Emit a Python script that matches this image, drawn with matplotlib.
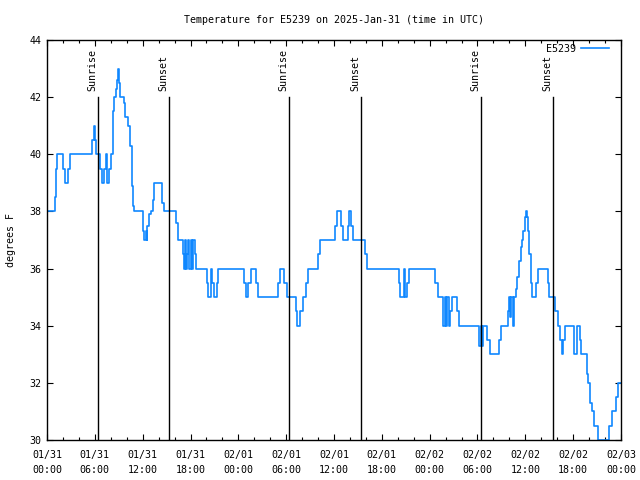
import matplotlib
matplotlib.use("Agg")
import matplotlib.pyplot as plt

# === D A T A ===

# hours since 2025-01-31 00:00 UTC, temperature (F) holds until next entry
hours = [0.0, 1.0, 1.1, 1.2, 2.05, 2.3, 2.65, 2.9, 5.7, 5.9, 6.0, 6.2,
         6.65, 6.86, 7.19, 7.37, 7.57, 7.78, 8.03, 8.3, 8.45, 8.6, 8.75, 8.9,
         9.05, 9.2, 9.6, 9.8, 10.1, 10.4, 10.6, 10.75, 10.9,
         12.0, 12.2, 12.4, 12.5, 12.6, 12.8, 13.05, 13.26, 13.4, 14.47, 14.72,
         16.19, 16.47, 17.03, 17.15, 17.3, 17.45, 17.55, 17.7, 17.85, 18.05,
         18.2, 18.35, 18.55, 18.75, 20.04, 20.24, 20.54, 20.74, 20.95, 21.37,
         21.49, 24.76, 24.93, 25.26, 25.56, 26.2, 26.43, 29.02, 29.27, 29.77,
         30.08, 31.24, 31.4, 31.77, 32.07, 32.5, 32.7, 34.04, 34.25, 36.14,
         36.42, 36.9, 37.1, 37.73, 37.86, 38.07, 38.4, 39.9, 40.1, 44.2, 44.3,
         44.8, 44.9, 45.1, 45.45, 48.7, 49.0, 49.72, 49.9, 50.06, 50.23, 50.4,
         50.56, 50.78, 51.48, 51.73, 54.2, 54.45, 54.55, 54.75, 55.25, 55.58,
         56.75, 56.96, 57.8, 57.97, 58.1, 58.2, 58.4, 58.6, 58.8, 59.0, 59.26,
         59.43, 59.56, 59.76, 59.97, 60.06, 60.19, 60.31, 60.51, 60.69, 60.81,
         61.3, 61.56, 62.82, 63.02, 63.74, 64.08, 64.37, 64.58, 64.78, 64.99,
         66.12, 66.54, 66.88, 67.0, 67.79, 67.9, 68.13, 68.34, 68.67, 69.17,
         69.3, 70.51, 70.85, 71.39, 71.6, 72.0]
temps = [38, 38.5, 39.5, 40, 39.5, 39, 39.5, 40, 40.5, 41, 40.5, 40,
         39.5, 39, 39.5, 40, 39, 39.5, 40, 41.5, 42, 42.3, 42.6, 43,
         42.5, 42, 41.8, 41.3, 41, 40.3, 38.9, 38.2, 38,
         37.3, 37, 37.3, 37, 37.5, 37.9, 38, 38.4, 39, 38.3, 38,
         37.6, 37, 36.5, 36, 37, 36, 36.5, 37, 36, 37,
         36, 37, 36.5, 36, 35.5, 35, 36, 35.5, 35, 35.5,
         36, 35.5, 35, 35.5, 36, 35.5, 35, 35.5, 36, 35.5,
         35, 34.5, 34, 34.5, 35, 35.5, 36, 36.5, 37, 37.5,
         38, 37.5, 37, 37.5, 38, 37.5, 37, 36.5, 36, 35.5, 35,
         36, 35, 35.5, 36, 35.5, 35, 34, 35, 34, 35, 34,
         34.5, 35, 34.5, 34, 33.3, 34, 33.3, 34, 33.5, 33,
         33.5, 34, 34.5, 35, 34.3, 35, 34, 35, 35.3, 35.7, 36.25,
         36.76, 37, 37.3, 37.8, 38, 37.8, 37.3, 36.5, 35.5, 35,
         35.5, 36, 35.5, 35, 34.5, 34, 33.5, 33, 33.5, 34,
         33, 34, 33.5, 33, 32.3, 32, 31.3, 31, 30.5, 30,
         30, 30.5, 31, 31.5, 32, 32]

sun_hours = [6.44, 15.35, 30.4, 39.44, 54.5, 63.53]
sun_labels = ["Sunrise", "Sunset", "Sunrise", "Sunset", "Sunrise", "Sunset"]

xtick_hours = [0, 6, 12, 18, 24, 30, 36, 42, 48, 54, 60, 66, 72]
xtick_labels = ["01/31\n00:00", "01/31\n06:00", "01/31\n12:00", "01/31\n18:00",
                "02/01\n00:00", "02/01\n06:00", "02/01\n12:00", "02/01\n18:00",
                "02/02\n00:00", "02/02\n06:00", "02/02\n12:00", "02/02\n18:00",
                "02/03\n00:00"]
ytick_vals = [30, 32, 34, 36, 38, 40, 42, 44]

# === P L O T ===

plt.rcParams['font.family'] = ['DejaVu Sans Mono']
plt.rcParams['font.size'] = 7.2

fig = plt.figure(figsize=(6.4, 4.8), dpi=100)
ax = fig.add_axes([47/640, 40/480, 574/640, 400/480])

ax.plot(hours, temps, drawstyle='steps-post', color='#0f87ff', lw=1.2, label='E5239')

for h, lab in zip(sun_hours, sun_labels):
  ax.plot([h, h], [30, 42], color='black', lw=1.0)
  ax.text(h - 0.1, 42.2, lab, rotation=90, ha='right', va='bottom')

ax.set_xlim(0, 72)
ax.set_ylim(30, 44)
ax.set_xticks(xtick_hours)
ax.set_xticklabels(xtick_labels, linespacing=1.7)
ax.set_xticks(range(0, 73, 2), minor=True)
ax.set_yticks(ytick_vals)
ax.tick_params(which='both', direction='in', top=True, right=True, width=0.8)
ax.tick_params(which='major', length=4.5, pad=4)
ax.tick_params(axis='x', which='major', pad=7)
ax.tick_params(which='minor', length=2.5)
for s in ax.spines.values():
  s.set_linewidth(1.0)

ax.set_ylabel("degrees F", labelpad=10)
ax.set_title("Temperature for E5239 on 2025-Jan-31 (time in UTC)", fontsize=7.2, pad=12)
ax.legend(loc='upper right', frameon=False, markerfirst=False, handlelength=2.8,
          bbox_to_anchor=(1 - 8/574, 1.0), borderaxespad=0.0, handletextpad=0.5)

fig.savefig("out.png", dpi=100)
